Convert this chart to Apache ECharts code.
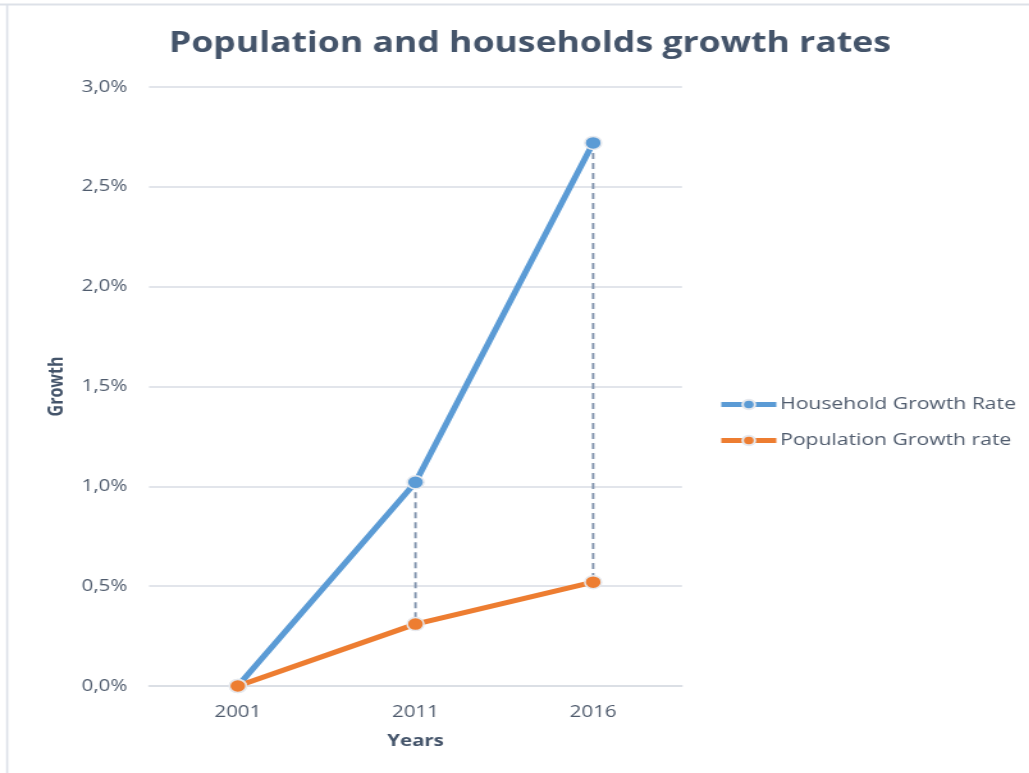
<!DOCTYPE html>
<html>
<head>
<meta charset="utf-8">
<style>
  html, body { margin: 0; padding: 0; background: #ffffff; overflow: hidden; }
  /* the chart is laid out narrower and widened to the page width */
  #chart { width: 804px; height: 773px; transform: scaleX(1.28); transform-origin: 0 0; }
</style>
<script src="https://cdn.jsdelivr.net/npm/echarts@6/dist/echarts.min.js"></script>
</head>
<body>
<div id="chart"></div>
<script>
// Census years and growth rates (in percent)
const years = ['2001', '2011', '2016'];
const householdGrowth = [0, 1.02, 2.72];
const populationGrowth = [0, 0.31, 0.52];
const yTicks = { min: 0, max: 3, step: 0.5 };

const FONT = '"Open Sans", "Noto Sans", sans-serif';
const TEXT = '#4f5b6d';
const DARK = '#44546a';
const GRID = '#d9dde4';

// vertical connectors between the two series at each year
const connectors = years.map((y, i) => [i, householdGrowth[i], populationGrowth[i]]);

const chart = echarts.init(document.getElementById('chart'), null, { renderer: 'canvas' });

chart.setOption({
  backgroundColor: '#ffffff',
  animation: false,
  title: {
    text: 'Population and households growth rates',
    left: 409,
    textAlign: 'center',
    top: 25,
    textStyle: { fontFamily: FONT, fontWeight: 'bold', fontSize: 27.8, color: DARK }
  },
  graphic: [
    { type: 'line', shape: { x1: 0, y1: 4.5, x2: 804, y2: 4.5 }, style: { stroke: '#dde1e8', lineWidth: 2 } },
    { type: 'line', shape: { x1: 5.6, y1: 4, x2: 5.6, y2: 773 }, style: { stroke: '#dde1e8', lineWidth: 1.6 } }
  ],
  legend: {
    orient: 'vertical',
    left: 556,
    top: 391,
    itemWidth: 43,
    itemHeight: 12,
    itemGap: 19,
    lineStyle: { width: 5 },
    textStyle: { fontFamily: FONT, fontSize: 16.5, color: TEXT, padding: [0, 0, 0, -2] },
    data: ['Household Growth Rate', 'Population Growth rate']
  },
  grid: { left: 116.4, right: 271.2, top: 87, bottom: 87 },
  xAxis: {
    type: 'category',
    data: years,
    boundaryGap: true,
    name: 'Years',
    nameLocation: 'middle',
    nameGap: 47,
    nameTextStyle: { fontFamily: FONT, fontWeight: 'bold', fontSize: 16, color: DARK },
    axisLine: { show: true, lineStyle: { color: GRID, width: 1.5 } },
    axisTick: { show: false },
    axisLabel: { fontFamily: FONT, fontSize: 16, color: TEXT, margin: 18 }
  },
  yAxis: {
    type: 'value',
    min: yTicks.min,
    max: yTicks.max,
    interval: yTicks.step,
    name: 'Growth',
    nameLocation: 'middle',
    nameGap: 64,
    nameRotate: 90,
    nameTextStyle: { fontFamily: FONT, fontWeight: 'bold', fontSize: 16, color: DARK },
    axisLine: { show: false },
    axisTick: { show: false },
    splitLine: { lineStyle: { color: GRID, width: 1.5 } },
    axisLabel: {
      fontFamily: FONT, fontSize: 16, color: TEXT, margin: 17,
      formatter: v => v.toFixed(1).replace('.', ',') + '%'
    }
  },
  series: [
    {
      type: 'custom',
      name: 'connectors',
      data: connectors,
      encode: { x: 0, y: [1, 2] },
      z: 1,
      silent: true,
      renderItem: (params, api) => {
        const a = api.coord([api.value(0), api.value(1)]);
        const b = api.coord([api.value(0), api.value(2)]);
        return {
          type: 'line',
          shape: { x1: a[0], y1: a[1], x2: b[0], y2: b[1] },
          style: { stroke: '#8193ad', lineWidth: 1.9, lineDash: [6, 4] }
        };
      }
    },
    {
      type: 'line',
      name: 'Household Growth Rate',
      data: householdGrowth,
      z: 3,
      symbol: 'circle',
      symbolSize: 13,
      lineStyle: { color: '#5b9bd5', width: 5 },
      itemStyle: { color: '#5b9bd5', borderColor: '#e6e9ee', borderWidth: 1.5 }
    },
    {
      type: 'line',
      name: 'Population Growth rate',
      data: populationGrowth,
      z: 3,
      symbol: 'circle',
      symbolSize: 13,
      lineStyle: { color: '#ed7d31', width: 5 },
      itemStyle: { color: '#ed7d31', borderColor: '#e6e9ee', borderWidth: 1.5 }
    }
  ]
});
</script>
</body>
</html>
